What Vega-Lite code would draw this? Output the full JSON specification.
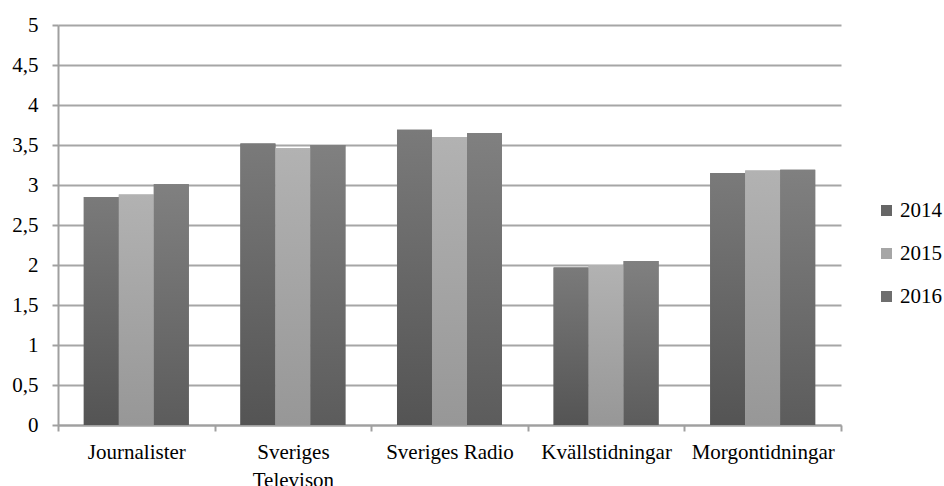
{
  "$schema": "https://vega.github.io/schema/vega-lite/v6.json",
  "width": 783,
  "height": 400,
  "autosize": {"type": "none"},
  "padding": {"left": 58, "top": 25, "right": 103, "bottom": 61},
  "config": {"view": {"stroke": null}, "font": "Liberation Serif"},
  "data": {
    "values": [
      {"category": "Journalister", "year": "2014", "value": 2.85},
      {"category": "Journalister", "year": "2015", "value": 2.88},
      {"category": "Journalister", "year": "2016", "value": 3.01},
      {"category": "Sveriges Televison", "year": "2014", "value": 3.52},
      {"category": "Sveriges Televison", "year": "2015", "value": 3.46},
      {"category": "Sveriges Televison", "year": "2016", "value": 3.50},
      {"category": "Sveriges Radio", "year": "2014", "value": 3.69},
      {"category": "Sveriges Radio", "year": "2015", "value": 3.60},
      {"category": "Sveriges Radio", "year": "2016", "value": 3.65},
      {"category": "Kvällstidningar", "year": "2014", "value": 1.97},
      {"category": "Kvällstidningar", "year": "2015", "value": 2.00},
      {"category": "Kvällstidningar", "year": "2016", "value": 2.05},
      {"category": "Morgontidningar", "year": "2014", "value": 3.15},
      {"category": "Morgontidningar", "year": "2015", "value": 3.18},
      {"category": "Morgontidningar", "year": "2016", "value": 3.19}
    ]
  },
  "encoding": {
    "x": {
      "field": "category",
      "type": "nominal",
      "sort": ["Journalister", "Sveriges Televison", "Sveriges Radio", "Kvällstidningar", "Morgontidningar"],
      "scale": {"paddingInner": 0, "paddingOuter": 0},
      "axis": {
        "title": null,
        "labelAngle": 0,
        "tickBand": "extent",
        "tickSize": 6,
        "tickWidth": 2,
        "tickColor": "#a0a0a0",
        "domainColor": "#a0a0a0",
        "domainWidth": 2,
        "labelFontSize": 21,
        "labelColor": "#000000",
        "labelPadding": 10,
        "labelLineHeight": 28,
        "labelExpr": "datum.label == 'Sveriges Televison' ? ['Sveriges', 'Televison'] : datum.label"
      }
    },
    "xOffset": {
      "field": "year",
      "type": "nominal",
      "scale": {"domain": ["2014", "2015", "2016"], "paddingInner": 0, "paddingOuter": 0.737}
    },
    "y": {
      "field": "value",
      "type": "quantitative",
      "scale": {"domain": [0, 5]},
      "axis": {
        "title": null,
        "values": [0, 0.5, 1, 1.5, 2, 2.5, 3, 3.5, 4, 4.5, 5],
        "grid": true,
        "gridColor": "#a6a6a6",
        "gridWidth": 2,
        "domainColor": "#a0a0a0",
        "domainWidth": 2,
        "tickColor": "#a0a0a0",
        "tickWidth": 2,
        "tickSize": 6,
        "labelFontSize": 21,
        "labelColor": "#000000",
        "labelPadding": 14,
        "labelExpr": "replace(format(datum.value, '~g'), '.', ',')"
      }
    }
  },
  "layer": [
    {
      "mark": {"type": "bar"},
      "encoding": {
        "color": {
          "field": "year",
          "type": "nominal",
          "scale": {"domain": ["2014", "2015", "2016"], "range": ["#666666", "#a6a6a6", "#6e6e6e"]},
          "legend": {
            "title": null,
            "orient": "none",
            "legendX": 818,
            "legendY": 175,
            "padding": 0,
            "symbolType": "square",
            "symbolSize": 121,
            "symbolStrokeWidth": 0,
            "symbolOpacity": 1,
            "labelFontSize": 21,
            "labelColor": "#000000",
            "labelOffset": 3,
            "rowPadding": 21
          }
        }
      }
    },
    {
      "transform": [{"filter": "datum.year == '2014'"}],
      "mark": {"type": "bar", "color": {"gradient": "linear", "x1": 0, "y1": 0, "x2": 0, "y2": 1, "stops": [{"offset": 0, "color": "#7a7a7a"}, {"offset": 1, "color": "#545454"}]}},
      "encoding": {}
    },
    {
      "transform": [{"filter": "datum.year == '2015'"}],
      "mark": {"type": "bar", "color": {"gradient": "linear", "x1": 0, "y1": 0, "x2": 0, "y2": 1, "stops": [{"offset": 0, "color": "#b2b2b2"}, {"offset": 1, "color": "#979797"}]}},
      "encoding": {}
    },
    {
      "transform": [{"filter": "datum.year == '2016'"}],
      "mark": {"type": "bar", "color": {"gradient": "linear", "x1": 0, "y1": 0, "x2": 0, "y2": 1, "stops": [{"offset": 0, "color": "#808080"}, {"offset": 1, "color": "#5c5c5c"}]}},
      "encoding": {}
    }
  ]
}
